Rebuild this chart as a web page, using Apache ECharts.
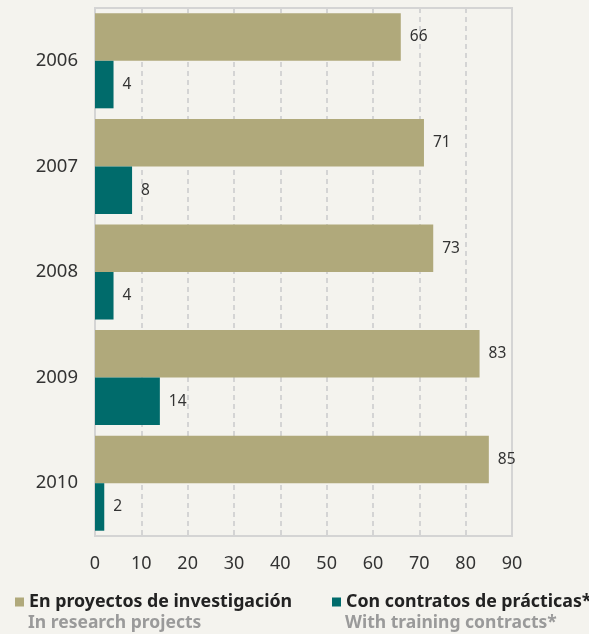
<!DOCTYPE html>
<html><head><meta charset="utf-8">
<script src="https://cdn.jsdelivr.net/npm/echarts@6/dist/echarts.min.js"></script>
<style>html,body{margin:0;padding:0;background:#f4f3ee;}#c{width:589px;height:634px;}</style>
</head><body><div id="c"></div>
<script>
const years = ['2006','2007','2008','2009','2010'];
const research = [66, 71, 73, 83, 85];
const training = [4, 8, 4, 14, 2];
const xTicks = [0,10,20,30,40,50,60,70,80,90];
const name1 = 'En proyectos de investigación';
const name2 = 'Con contratos de prácticas*';
const sub1 = 'In research projects';
const sub2 = 'With training contracts*';
const font = '"Noto Sans", "Open Sans", sans-serif';
const chart = echarts.init(document.getElementById('c'));
const lbl = {show:true, position:'right', distance:9, color:'#333', fontSize:15.5, fontFamily:font};
chart.setOption({
  backgroundColor:'#f4f3ee',
  animation:false,
  textStyle:{fontFamily:font},
  grid:{left:95, right:77, top:8, bottom:98, show:true, borderColor:'#d4d4d4', borderWidth:2, backgroundColor:'transparent'},
  xAxis:{type:'value', min:xTicks[0], max:xTicks[xTicks.length-1], interval:10,
    axisLine:{show:false}, axisTick:{show:false},
    axisLabel:{color:'#333', fontSize:18, margin:19, fontFamily:font},
    splitLine:{show:true, lineStyle:{color:'#d4d4d4', width:2, type:[5,4]}}},
  yAxis:{type:'category', data:years, inverse:true,
    axisLine:{show:false}, axisTick:{show:false}, splitLine:{show:false},
    axisLabel:{color:'#333', fontSize:18.5, margin:17, fontFamily:font}},
  legend:[
    {data:[name1], left:10, top:588, itemWidth:9, itemHeight:9, icon:'rect', itemGap:8,
     textStyle:{color:'#222', fontSize:17.8, fontWeight:'bold', fontFamily:font}},
    {data:[name2], left:327, top:588, itemWidth:9, itemHeight:9, icon:'rect',
     textStyle:{color:'#222', fontSize:17.8, fontWeight:'bold', fontFamily:font}}
  ],
  graphic:[
    {type:'text', left:28, top:614, style:{text:sub1, fill:'#9a9a9a', font:'bold 17.5px '+font}},
    {type:'text', left:345, top:614, style:{text:sub2, fill:'#9a9a9a', font:'bold 17.5px '+font}}
  ],
  series:[
    {name:name1, type:'bar', data:research, barGap:'0%', barCategoryGap:'10%',
     itemStyle:{color:'#b0a97b'}, label:lbl},
    {name:name2, type:'bar', data:training, barGap:'0%', barCategoryGap:'10%',
     itemStyle:{color:'#006b6b'}, label:lbl}
  ]
});
</script></body></html>
